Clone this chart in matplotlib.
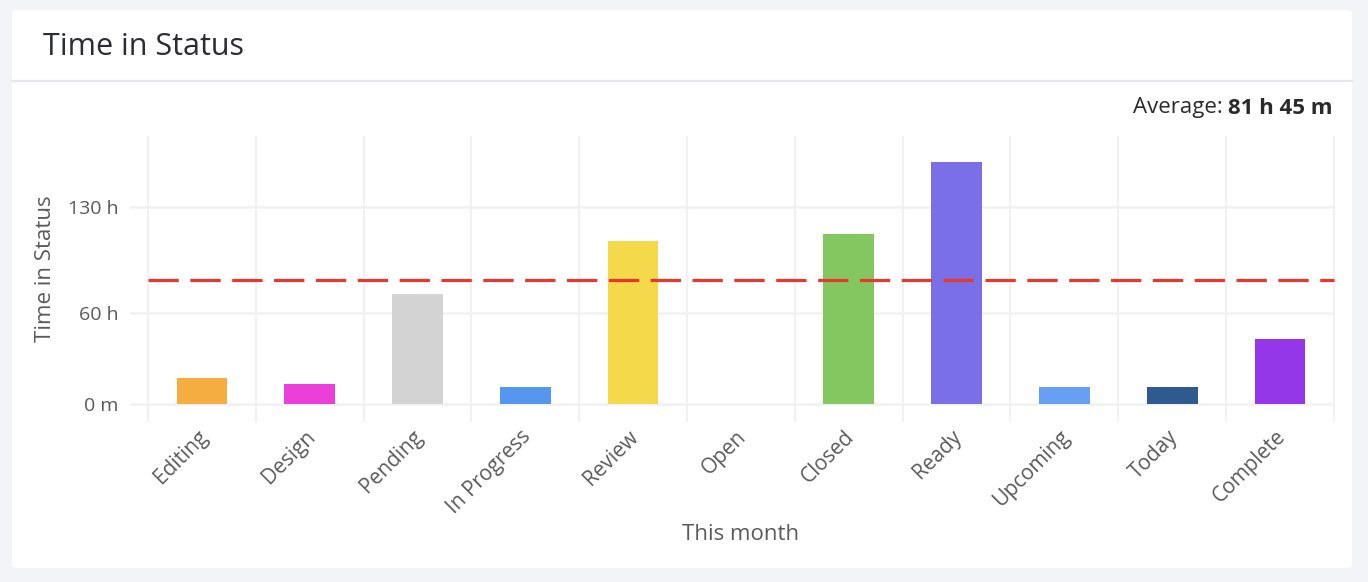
import matplotlib.pyplot as plt
from matplotlib.patches import FancyBboxPatch
from matplotlib.lines import Line2D
from matplotlib.transforms import ScaledTranslation

# chart values
statuses = ['Editing', 'Design', 'Pending', 'In Progress', 'Review', 'Open',
            'Closed', 'Ready', 'Upcoming', 'Today', 'Complete']
hours = [17.1, 13.4, 72.6, 11.2, 107.4, 0.0, 111.8, 159.2, 11.2, 11.2, 43.0]
colors = ['#f5ac40', '#ea3fd9', '#d3d3d3', '#5596ee', '#f4d94a', '#cccccc',
          '#84c660', '#7a6fe6', '#679ff4', '#2e5a8f', '#9437e8']
avg_hours = 81.75
avg_label = '81 h 45 m'
y_ticks = [0, 60, 130]
y_tick_labels = ['0 m', '60 h', '130 h']

plt.rcParams['font.family'] = ['Open Sans', 'DejaVu Sans']

W, H = 1368, 582
fig = plt.figure(figsize=(W / 100, H / 100), dpi=100)
fig.patch.set_facecolor('#f3f4f8')

# white card behind everything
card = FancyBboxPatch((12 / W, 1 - 568 / H), 1340 / W, 558 / H,
                      boxstyle='round,pad=0,rounding_size=0.005',
                      transform=fig.transFigure, facecolor='white',
                      edgecolor='none', zorder=-10)
fig.patches.append(card)
fig.lines.append(Line2D([12 / W, 1352 / W], [1 - 80.5 / H, 1 - 80.5 / H],
                        transform=fig.transFigure, color='#e6e7ec', lw=1.6,
                        zorder=-9))

fig.text(43 / W, 1 - 47 / H, 'Time in Status', fontsize=22, color='#2b2d33',
         ha='left', va='center')

ax = fig.add_axes([130 / W, 1 - 422 / H, 1205 / W, 286 / H])
ax.set_zorder(5)
ax.set_facecolor('none')
x = list(range(len(statuses)))
ax.bar(x, hours, width=0.47, color=colors, linewidth=0, zorder=2)
ax.hlines(avg_hours, -0.5, len(statuses) - 0.5, colors='#e8382e', lw=2.3,
          linestyles=(0, (9.5, 3.6)), zorder=3)

ax.set_xlim(-0.667, 10.51)
ax.set_ylim(-11.6, 176.5)

# grid
for b in range(len(statuses) + 1):
    ax.axvline(b - 0.5, color='#f1f1f3', lw=1.5, zorder=1)
for t in y_ticks:
    ax.axhline(t, color='#f1f1f3', lw=1.8, zorder=1)

ax.set_yticks(y_ticks)
ax.set_yticklabels(y_tick_labels)
ax.set_xticks(x)
ax.set_xticklabels(statuses, rotation=45, ha='right', va='top',
                   rotation_mode='anchor')
ax.tick_params(axis='both', length=0, labelsize=14, labelcolor='#5a5a5a')
ax.tick_params(axis='x', labelsize=15, pad=3)
ax.tick_params(axis='y', pad=8)
shift = ScaledTranslation(-5 / 100, 0, fig.dpi_scale_trans)
for lab in ax.get_xticklabels():
    lab.set_transform(lab.get_transform() + shift)
for s in ax.spines.values():
    s.set_visible(False)

ax.set_ylabel('Time in Status', fontsize=16, color='#5a5a5a')
ax.yaxis.set_label_coords(-0.061, 0.535)
fig.text(741 / W, 1 - 535 / H, 'This month', fontsize=16, color='#5a5a5a',
         ha='center', va='center')

# average label
bold = fig.text(1333 / W, 1 - 108 / H, avg_label, fontsize=16, weight='bold',
                color='#2a2a2a', ha='right', va='center')
fig.add_artist(plt.Annotation('Average: ', xy=(0, 0.5), xycoords=bold,
                              ha='right', va='center', fontsize=16,
                              color='#2a2a2a'))

fig.savefig('out.png', dpi=100, facecolor=fig.get_facecolor())
